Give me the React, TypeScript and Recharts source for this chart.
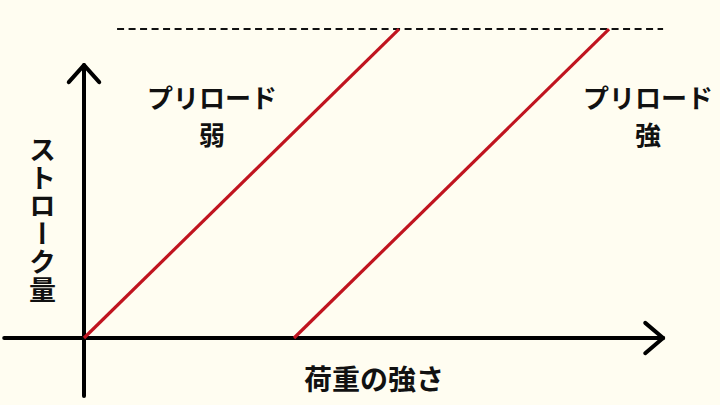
import { LineChart, Line, XAxis, YAxis, ReferenceLine } from "recharts";

// 荷重の強さ vs ストローク量 (2 preload settings)
const load = [0, 4, 6, 10];
const weakPreload = [0, null, 10, null];
const strongPreload = [null, 0, null, 10];

const chartData = load.map((x, i) => ({ x, weak: weakPreload[i], strong: strongPreload[i] }));

// axis extents and arrow heads (data units)
const xAxisEnds: [number, number] = [-1.52, 11.03];
const yAxisEnds: [number, number] = [-1.88, 8.83];
const xArrowArm = { dx: 0.34, dy: 0.49 };
const yArrowArm = { dx: 0.29, dy: 0.55 };
const maxStroke = 10;
const maxLineSpan: [number, number] = [0.63, 11.03];

const xDomain: [number, number] = [-1.6, 12.114];
const yDomain: [number, number] = [-2.168, 10.94];

const font = '"Noto Sans CJK JP", "Noto Sans", sans-serif';
const red = "#c0141f";

type Pt = { x: number; y: number };
const seg = (a: Pt, b: Pt) => [a, b];

export default function App() {
  const xTip = { x: xAxisEnds[1], y: 0 };
  const yTip = { x: 0, y: yAxisEnds[1] };
  const axisStyle = { stroke: "#000", strokeWidth: 4, strokeLinecap: "round" as const };
  return (
    <div
      style={{
        position: "relative",
        width: 720,
        height: 405,
        background: "#fffdf1",
        fontFamily: font,
        fontWeight: 700,
        color: "#111",
      }}
    >
      <style>{`body{margin:0}`}</style>
      <LineChart width={720} height={405} data={chartData} margin={{ top: 0, right: 0, bottom: 0, left: 0 }}>
        <XAxis type="number" dataKey="x" domain={xDomain} allowDataOverflow hide />
        <YAxis type="number" domain={yDomain} allowDataOverflow hide />
        <ReferenceLine
          segment={seg({ x: maxLineSpan[0], y: maxStroke }, { x: maxLineSpan[1], y: maxStroke })}
          stroke="#111"
          strokeWidth={2}
          strokeDasharray="7 4.5"
        />
        <ReferenceLine segment={seg({ x: xAxisEnds[0], y: 0 }, xTip)} {...axisStyle} />
        <ReferenceLine segment={seg({ x: 0, y: yAxisEnds[0] }, yTip)} {...axisStyle} />
        <ReferenceLine segment={seg({ x: xTip.x - xArrowArm.dx, y: xArrowArm.dy }, xTip)} {...axisStyle} />
        <ReferenceLine segment={seg({ x: xTip.x - xArrowArm.dx, y: -xArrowArm.dy }, xTip)} {...axisStyle} />
        <ReferenceLine segment={seg({ x: -yArrowArm.dx, y: yTip.y - yArrowArm.dy }, yTip)} {...axisStyle} />
        <ReferenceLine segment={seg({ x: yArrowArm.dx, y: yTip.y - yArrowArm.dy }, yTip)} {...axisStyle} />
        <Line
          dataKey="weak"
          type="linear"
          connectNulls
          stroke={red}
          strokeWidth={3.2}
          dot={false}
          activeDot={false}
          isAnimationActive={false}
        />
        <Line
          dataKey="strong"
          type="linear"
          connectNulls
          stroke={red}
          strokeWidth={3.2}
          dot={false}
          activeDot={false}
          isAnimationActive={false}
        />
      </LineChart>

      <div style={{ position: "absolute", left: 112, top: 78, width: 200, textAlign: "center", fontSize: 26, lineHeight: "37px" }}>
        プリロード
        <br />
        弱
      </div>
      <div style={{ position: "absolute", left: 548, top: 78, width: 200, textAlign: "center", fontSize: 26, lineHeight: "37px" }}>
        プリロード
        <br />
        強
      </div>
      <div
        style={{
          position: "absolute",
          left: 28,
          top: 136,
          writingMode: "vertical-rl",
          fontSize: 27,
          lineHeight: "28px",
          letterSpacing: 1,
        }}
      >
        ストローク量
      </div>
      <div style={{ position: "absolute", left: 274, top: 360, width: 200, textAlign: "center", fontSize: 28, lineHeight: "36px" }}>
        荷重の強さ
      </div>
    </div>
  );
}
